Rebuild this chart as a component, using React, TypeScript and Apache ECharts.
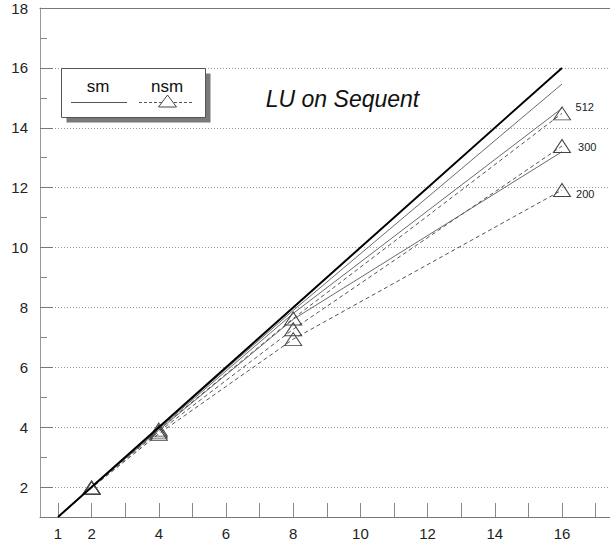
import React, { useEffect, useRef } from "react";
import * as echarts from "echarts";

// Processor counts and speedups
const procs = [1, 2, 4, 8, 16];
const ideal = [1, 2, 4, 8, 16];
const sm512 = [1, 2, 3.98, 7.9, 15.46];
const sm300 = [1, 2, 3.95, 7.8, 14.65];
const sm200 = [1, 1.99, 3.9, 7.6, 13.2];
const nsm512 = [1, 1.99, 3.92, 7.63, 14.48];
const nsm300 = [1, 1.98, 3.85, 7.27, 13.39];
const nsm200 = [1, 1.97, 3.78, 6.94, 11.92];
const sizeNames = ["512", "300", "200"];

// Axis ticks and labels
const xTicks = [1, 2, 3, 4, 5, 6, 7, 8, 9, 10, 11, 12, 13, 14, 15, 16, 17];
const xLabels = [1, 2, 4, 6, 8, 10, 12, 14, 16];
const yLabels = [2, 4, 6, 8, 10, 12, 14, 16, 18];
const yMajorTicks = [2, 4, 6, 8, 10, 12, 14, 16];
const yMinorTicks = [3, 5, 7, 9, 11, 13, 15, 17];

const FONT = '"Liberation Sans", Arial, Helvetica, sans-serif';
const X_MIN = 1 - 18 / 33.6;
const X_MAX = 1 + 552 / 33.6;

const labelPlacement = [
  { distance: 4.5, offset: [0, -6] },
  { distance: 7, offset: [0, 1] },
  { distance: 5, offset: [0, 4] },
];

function solidSeries(ys: number[]) {
  return {
    type: "line",
    data: procs.map((x, i) => [x, ys[i]]),
    symbol: "none",
    lineStyle: { color: "#6a6a6a", width: 1 },
    silent: true,
    z: 3,
  };
}

function dashedSeries(ys: number[], k: number) {
  return {
    type: "line",
    data: procs.map((x, i) => {
      const value = [x, ys[i]];
      if (i === 0) return { value, symbol: "none" };
      if (i === procs.length - 1) {
        return {
          value,
          label: {
            show: true,
            position: "right",
            distance: labelPlacement[k].distance,
            offset: labelPlacement[k].offset,
            formatter: sizeNames[k],
            fontFamily: FONT,
            fontSize: 11,
            color: "#222",
          },
        };
      }
      return { value };
    }),
    symbol: "triangle",
    symbolSize: [17, 13],
    itemStyle: { color: "rgba(0,0,0,0)", borderColor: "#444", borderWidth: 1 },
    lineStyle: { color: "#555", width: 1, type: [4, 3] },
    silent: true,
    z: 4,
  };
}

export default function App() {
  const ref = useRef<HTMLDivElement>(null);

  useEffect(() => {
    if (!ref.current) return;
    const chart = echarts.init(ref.current, null, { renderer: "svg" });
    chart.setOption({
      animation: false,
      backgroundColor: "#fff",
      grid: { left: 40, right: 0, top: 8, bottom: 33, containLabel: false },
      xAxis: [
        {
          type: "value",
          min: X_MIN,
          max: X_MAX,
          axisLine: { show: true, lineStyle: { color: "#777", width: 1 } },
          axisTick: {
            show: true,
            inside: true,
            length: 14,
            customValues: xTicks,
            lineStyle: { color: "#888" },
          },
          axisLabel: {
            customValues: xLabels,
            margin: 9,
            fontFamily: FONT,
            fontSize: 15,
            color: "#222",
          },
          splitLine: { show: false },
        },
        {
          type: "value",
          position: "top",
          min: X_MIN,
          max: X_MAX,
          axisLine: { show: true, lineStyle: { color: "#777", width: 1 } },
          axisTick: { show: false },
          axisLabel: { show: false },
          splitLine: { show: false },
        },
      ],
      yAxis: [
        {
          type: "value",
          min: 1,
          max: 18,
          axisLine: { show: true, lineStyle: { color: "#999", width: 1 } },
          axisTick: {
            show: true,
            inside: true,
            length: 13,
            customValues: yMajorTicks,
            lineStyle: { color: "#777" },
          },
          axisLabel: {
            customValues: yLabels,
            margin: 12,
            fontFamily: FONT,
            fontSize: 15,
            color: "#222",
          },
          splitLine: {
            show: true,
            lineStyle: { color: "#999", width: 1, type: [1, 2] },
          },
        },
        {
          type: "value",
          position: "left",
          min: 1,
          max: 18,
          axisLine: { show: false },
          axisTick: {
            show: true,
            inside: true,
            length: 7,
            customValues: yMinorTicks,
            lineStyle: { color: "#888" },
          },
          axisLabel: { show: false },
          splitLine: { show: false },
        },
      ],
      series: [
        solidSeries(sm512),
        solidSeries(sm300),
        solidSeries(sm200),
        dashedSeries(nsm512, 0),
        dashedSeries(nsm300, 1),
        dashedSeries(nsm200, 2),
        {
          type: "line",
          data: procs.map((x, i) => [x, ideal[i]]),
          symbol: "none",
          lineStyle: { color: "#000", width: 2 },
          silent: true,
          z: 5,
        },
      ],
      graphic: [
        {
          type: "rect",
          shape: { x: 66.5, y: 73.5, width: 144, height: 49 },
          style: { fill: "#7a7a7a" },
          z: 10,
        },
        {
          type: "rect",
          shape: { x: 61.5, y: 68.5, width: 144, height: 49 },
          style: { fill: "#fff", stroke: "#555", lineWidth: 1 },
          z: 11,
        },
        {
          type: "text",
          x: 98,
          y: 86,
          style: {
            text: "sm",
            font: `17px ${FONT}`,
            fill: "#111",
            align: "center",
            verticalAlign: "middle",
          },
          z: 12,
        },
        {
          type: "text",
          x: 167,
          y: 86,
          style: {
            text: "nsm",
            font: `17px ${FONT}`,
            fill: "#111",
            align: "center",
            verticalAlign: "middle",
          },
          z: 12,
        },
        {
          type: "line",
          shape: { x1: 71, y1: 102.5, x2: 127, y2: 102.5 },
          style: { stroke: "#555", lineWidth: 1 },
          z: 12,
        },
        {
          type: "line",
          shape: { x1: 139, y1: 102.5, x2: 193, y2: 102.5 },
          style: { stroke: "#555", lineWidth: 1, lineDash: [3, 2] },
          z: 12,
        },
        {
          type: "polygon",
          shape: {
            points: [
              [167.5, 95],
              [176.5, 107],
              [158.5, 107],
            ],
          },
          style: { fill: "#fff", stroke: "#444", lineWidth: 1 },
          z: 13,
        },
        {
          type: "text",
          x: 342.5,
          y: 98.5,
          style: {
            text: "LU on Sequent",
            font: `italic 23px ${FONT}`,
            fill: "#111",
            align: "center",
            verticalAlign: "middle",
          },
          z: 12,
        },
      ],
    });
    return () => chart.dispose();
  }, []);

  return (
    <div
      ref={ref}
      style={{ position: "fixed", left: 0, top: 0, width: 610, height: 550 }}
    />
  );
}
